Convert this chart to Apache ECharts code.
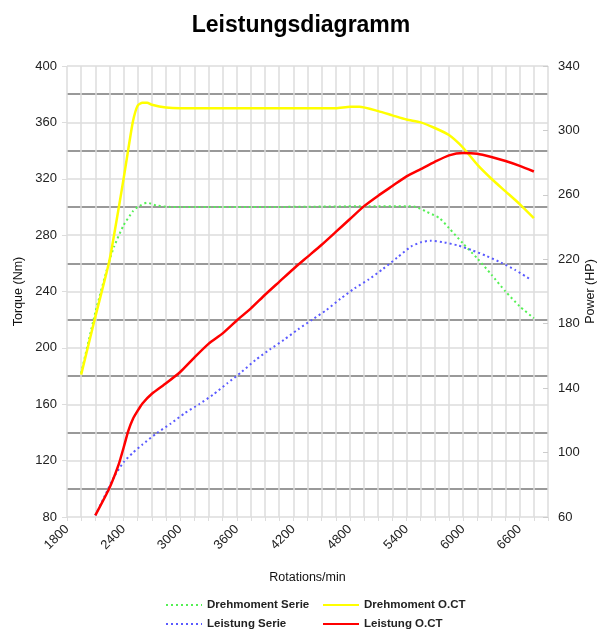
<!DOCTYPE html>
<html>
<head>
<meta charset="utf-8">
<title>Leistungsdiagramm</title>
<script src="https://cdn.jsdelivr.net/npm/echarts@6/dist/echarts.min.js"></script>
<style>
  html, body { margin: 0; padding: 0; background: #fff; }
  #main { width: 602px; height: 630px; }
</style>
</head>
<body>
<div id="main"></div>
<script>
// Drehmoment (Nm), linke Achse
const tqSerieRpm = [1950, 2100, 2250, 2300, 2400, 2500, 2550, 2650, 2750, 2900, 4000, 5000, 5400, 5500, 5600, 5750, 5850, 6000, 6150, 6300, 6450, 6600, 6750];
const tqSerie = [182, 225, 262, 272, 287, 297, 300, 303, 301, 300, 300, 300.5, 300.5, 300, 297, 292, 285, 274, 263.5, 252, 240, 229.5, 221];

const tqOctRpm = [1950, 2100, 2250, 2350, 2400, 2450, 2500, 2550, 2600, 2650, 2700, 2850, 3000, 4650, 4800, 4900, 5100, 5250, 5400, 5550, 5700, 5850, 6000, 6150, 6300, 6450, 6600, 6750];
const tqOct = [181, 222, 262, 300, 320, 341, 361, 372, 374, 374, 372.5, 370.5, 370, 370, 371, 371, 368, 365, 362, 360, 356, 351, 342, 330, 320, 311, 302, 292];

// Leistung (HP), rechte Achse
const pwSerieRpm = [2100, 2200, 2300, 2400, 2500, 2600, 2750, 2900, 3050, 3200, 3350, 3500, 3650, 3800, 3950, 4100, 4250, 4400, 4550, 4700, 4850, 5000, 5150, 5300, 5450, 5550, 5650, 5800, 5950, 6100, 6250, 6400, 6550, 6700];
const pwSerie = [61, 73, 85, 94, 100, 105, 112, 118, 124.5, 130, 136, 143, 150, 157.5, 164, 170, 176.5, 182.5, 188.5, 195.5, 202, 207.5, 214, 221, 228, 230.5, 231.5, 230.5, 228.5, 225.5, 222, 218, 213.5, 208];

const pwOctRpm = [2100, 2250, 2350, 2400, 2450, 2500, 2550, 2600, 2700, 2850, 3000, 3150, 3300, 3450, 3600, 3750, 3900, 4050, 4200, 4350, 4500, 4650, 4800, 4950, 5100, 5250, 5400, 5550, 5700, 5850, 6000, 6150, 6300, 6450, 6600, 6750];
const pwOct = [61, 78, 93, 103, 113.5, 121, 126, 130.5, 136.5, 143, 150, 159, 167.5, 174, 182, 189.5, 198, 206, 214, 221.5, 229, 237, 245, 253, 259.5, 265.5, 271.5, 276, 280.5, 284.5, 286, 285.5, 283.5, 281, 278, 274.5];

const font = "'Liberation Sans', Arial, sans-serif";

function pairs(xs, ys) {
  return xs.map((x, i) => [x, ys[i]]);
}

const myChart = echarts.init(document.getElementById("main"));

const legendText = { fontFamily: font, fontSize: 11.5, fontWeight: "bold", color: "#222" };

const option = {
  backgroundColor: "#fff",
  animation: false,
  title: {
    text: "Leistungsdiagramm",
    left: "center",
    top: 9,
    textStyle: { fontFamily: font, fontSize: 23, fontWeight: "bold", color: "#000" }
  },
  legend: [
    {
      left: 165,
      top: 599,
      padding: 0,
      orient: "vertical",
      itemWidth: 36,
      itemHeight: 4,
      itemGap: 7,
      itemStyle: { opacity: 0 },
      textStyle: legendText,
      data: ["Drehmoment Serie", "Leistung Serie"]
    },
    {
      left: 322,
      top: 599,
      padding: 0,
      orient: "vertical",
      itemWidth: 36,
      itemHeight: 4,
      itemGap: 7,
      itemStyle: { opacity: 0 },
      textStyle: legendText,
      data: ["Drehmoment O.CT", "Leistung O.CT"]
    }
  ],
  grid: {
    left: 67,
    right: 54,
    top: 66,
    bottom: 113,
    outerBoundsMode: "none"
  },
  xAxis: {
    type: "value",
    min: 1800,
    max: 6900,
    interval: 150,
    name: "Rotations/min",
    nameLocation: "middle",
    nameGap: 54,
    nameTextStyle: { fontFamily: font, fontSize: 12.5, color: "#111" },
    axisLine: { show: false },
    axisTick: { show: true, length: 4, lineStyle: { color: "#ddd" } },
    axisLabel: {
      rotate: 45,
      margin: 10,
      fontFamily: font,
      fontSize: 13,
      color: "#222",
      formatter: v => ((v - 1800) % 600 === 0 ? String(v) : "")
    },
    splitLine: { show: true, lineStyle: { color: "#ddd", width: 1.5 } }
  },
  yAxis: [
    {
      type: "value",
      min: 80,
      max: 400,
      interval: 40,
      name: "Torque (Nm)",
      nameLocation: "middle",
      nameGap: 42,
      nameMoveOverlap: false,
      nameTextStyle: { fontFamily: font, fontSize: 12.5, color: "#111" },
      axisLine: { show: false },
      axisTick: { show: true, length: 5, lineStyle: { color: "#ddd" } },
      axisLabel: { fontFamily: font, fontSize: 13, color: "#222", margin: 10 },
      splitLine: { show: true, lineStyle: { color: "#ddd", width: 1.5 } },
      minorTick: { show: false, splitNumber: 2 },
      minorSplitLine: { show: true, lineStyle: { color: "#999", width: 2 } }
    },
    {
      type: "value",
      min: 60,
      max: 340,
      interval: 40,
      name: "Power (HP)",
      nameLocation: "middle",
      nameGap: 36,
      nameMoveOverlap: false,
      nameTextStyle: { fontFamily: font, fontSize: 12.5, color: "#111" },
      axisLine: { show: false },
      axisTick: { show: true, inside: true, length: 5, lineStyle: { color: "#ccc" } },
      axisLabel: { fontFamily: font, fontSize: 13, color: "#222", margin: 10 },
      splitLine: { show: false }
    }
  ],
  series: [
    {
      name: "Drehmoment Serie",
      type: "line",
      yAxisIndex: 0,
      symbol: "none",
      smooth: 0.2,
      z: 2,
      lineStyle: { color: "#55f055", width: 2, type: [2, 3] },
      itemStyle: { color: "#55f055" },
      data: pairs(tqSerieRpm, tqSerie)
    },
    {
      name: "Leistung Serie",
      type: "line",
      yAxisIndex: 1,
      symbol: "none",
      smooth: 0.2,
      z: 2,
      lineStyle: { color: "#5a5aff", width: 2, type: [2, 3] },
      itemStyle: { color: "#5a5aff" },
      data: pairs(pwSerieRpm, pwSerie)
    },
    {
      name: "Drehmoment O.CT",
      type: "line",
      yAxisIndex: 0,
      symbol: "none",
      smooth: 0.2,
      z: 3,
      lineStyle: { color: "#ffff00", width: 2.5 },
      itemStyle: { color: "#ffff00" },
      data: pairs(tqOctRpm, tqOct)
    },
    {
      name: "Leistung O.CT",
      type: "line",
      yAxisIndex: 1,
      symbol: "none",
      smooth: 0.2,
      z: 3,
      lineStyle: { color: "#ff0000", width: 2.5 },
      itemStyle: { color: "#ff0000" },
      data: pairs(pwOctRpm, pwOct)
    }
  ]
};

myChart.setOption(option);
</script>
</body>
</html>
